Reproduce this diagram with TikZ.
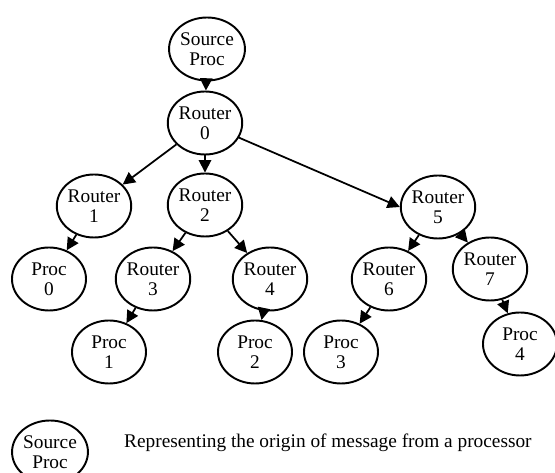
\documentclass[tikz,border=0pt]{standalone}
\usepackage{fontspec}
\setmainfont{Liberation Serif}
\usetikzlibrary{positioning}
\usetikzlibrary{shapes.geometric}
\usetikzlibrary{arrows.meta}

\begin{document}
\begin{tikzpicture}[
  unit/.style = {draw, ellipse, line width=1.1pt, minimum width=1.48cm,
    minimum height=1.26cm, inner sep=0pt, align=center,
    font=\fontsize{11}{11.5}\selectfont},
  link/.style = {line width=1pt, -{Triangle[length=7pt, width=7pt]}}
]
\useasboundingbox (0,0) rectangle (11.1,9.46);
% source processor and root router
\node[unit] (src) at (4.14,8.48) {Source\\Proc};
\node[unit] (r0) at (4.10,7.00) {Router\\0};
% first level of routers
\node[unit] (r1) at (1.88,5.34) {Router\\1};
\node[unit] (r2) at (4.10,5.36) {Router\\2};
\node[unit] (r5) at (8.76,5.32) {Router\\5};
% second level
\node[unit] (p0) at (0.98,3.88) {Proc\\0};
\node[unit] (r3) at (3.06,3.88) {Router\\3};
\node[unit] (r4) at (5.40,3.88) {Router\\4};
\node[unit] (r6) at (7.78,3.88) {Router\\6};
\node[unit] (r7) at (9.80,4.08) {Router\\7};
% destination processors
\node[unit] (p1) at (2.18,2.42) {Proc\\1};
\node[unit] (p2) at (5.10,2.42) {Proc\\2};
\node[unit] (p3) at (6.82,2.42) {Proc\\3};
\node[unit] (p4) at (10.40,2.58) {Proc\\4};
% links
\draw[link] (src) -- (r0);
\draw[link] (r0) -- (r1);
\draw[link] (r0) -- (r2);
\draw[link] (r0) -- (r5.west);
\draw[link] (r1) -- (p0);
\draw[link] (r2) -- (r3);
\draw[link] (r2) -- (r4);
\draw[link] (r5) -- (r6);
\draw[link] (r5) -- (r7);
\draw[link] (r3) -- (p1);
\draw[link] (r4) -- (p2);
\draw[link] (r6) -- (p3);
\draw[link] (r7) -- (p4);
% legend
\node[unit] (leg) at (1.00,0.42) {Source\\Proc};
\node[anchor=west, font=\fontsize{11}{11.5}\selectfont] (legtext) at (2.36,0.60) {Representing the origin of message from a processor};
\end{tikzpicture}
\end{document}
